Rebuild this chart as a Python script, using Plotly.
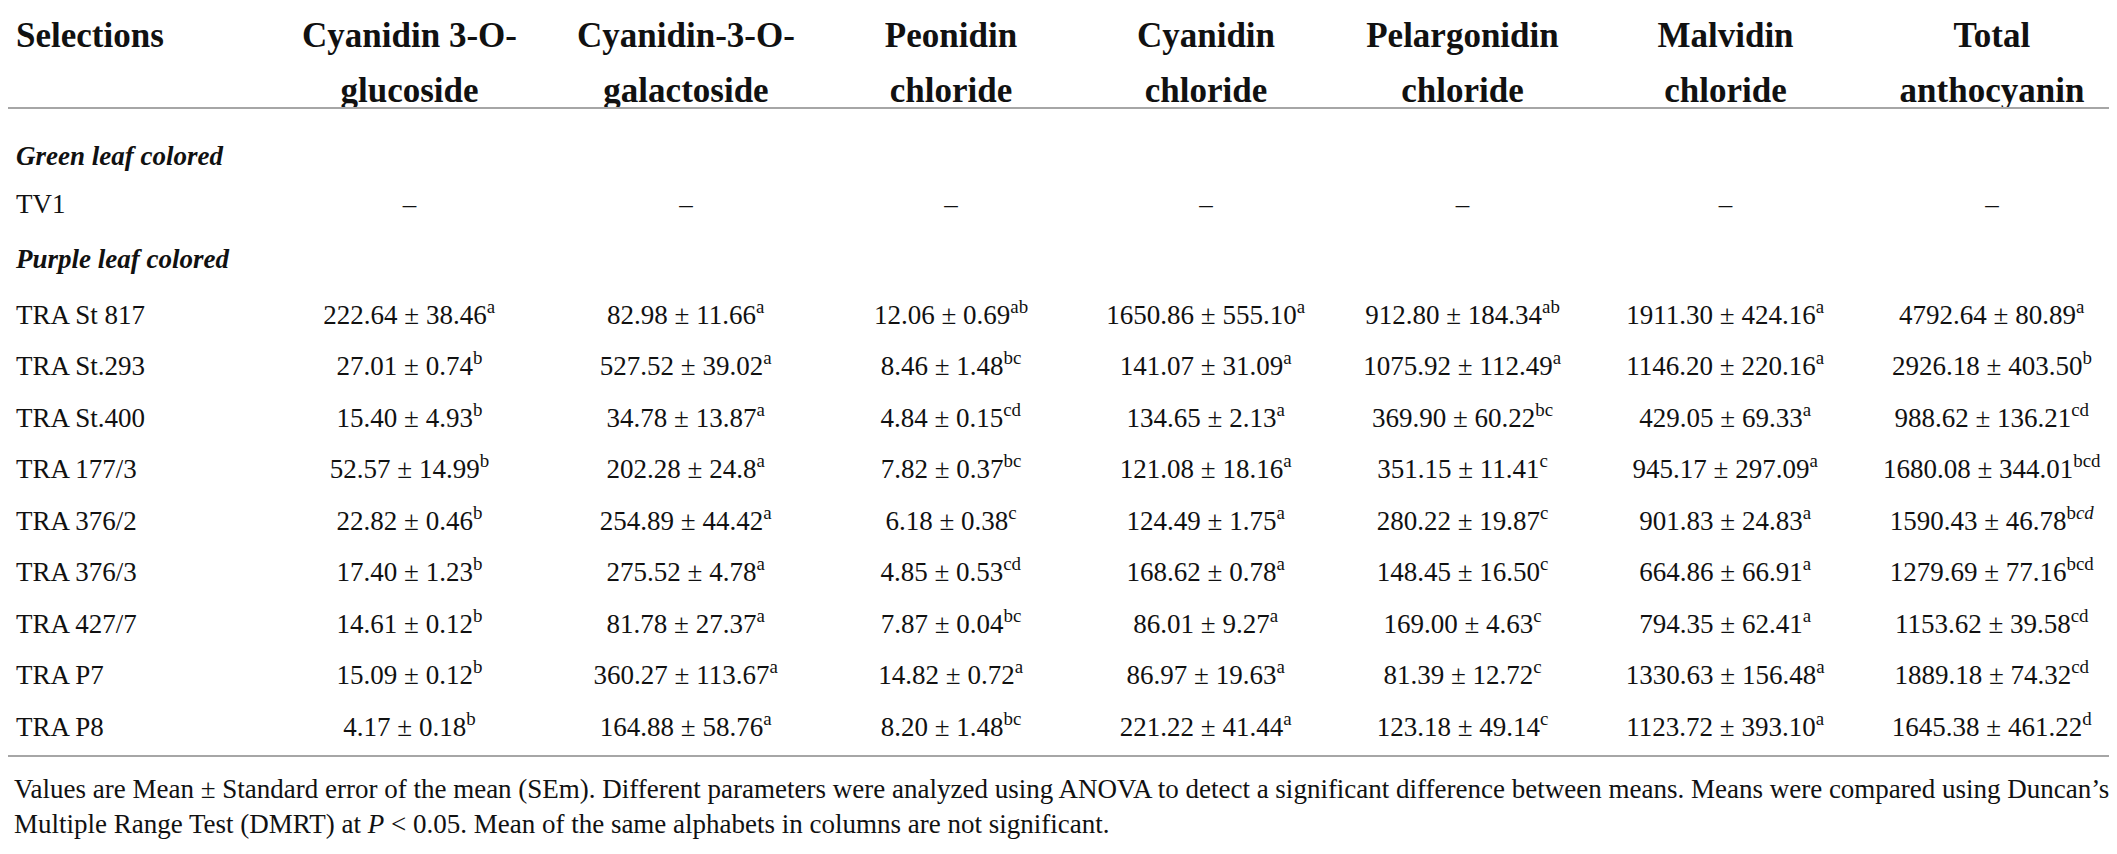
import plotly.graph_objects as go

# row labels
selections = ["<i><b>Green leaf colored</b></i>", "TV1", "<i><b>Purple leaf colored</b></i>",
              "TRA St 817", "TRA St.293", "TRA St.400", "TRA 177/3", "TRA 376/2",
              "TRA 376/3", "TRA 427/7", "TRA P7", "TRA P8"]

# column headings, first and second line
head_top = ["Selections", "Cyanidin 3-O-", "Cyanidin-3-O-", "Peonidin", "Cyanidin",
            "Pelargonidin", "Malvidin", "Total"]
head_bottom = ["", "glucoside", "galactoside", "chloride", "chloride", "chloride",
               "chloride", "anthocyanin"]

# mean, SEm and DMRT letters for the purple rows (TRA St 817 .. TRA P8)
c3glu_mean = ["222.64", "27.01", "15.40", "52.57", "22.82", "17.40", "14.61", "15.09", "4.17"]
c3glu_sem = ["38.46", "0.74", "4.93", "14.99", "0.46", "1.23", "0.12", "0.12", "0.18"]
c3glu_let = ["a", "b", "b", "b", "b", "b", "b", "b", "b"]

c3gal_mean = ["82.98", "527.52", "34.78", "202.28", "254.89", "275.52", "81.78", "360.27", "164.88"]
c3gal_sem = ["11.66", "39.02", "13.87", "24.8", "44.42", "4.78", "27.37", "113.67", "58.76"]
c3gal_let = ["a", "a", "a", "a", "a", "a", "a", "a", "a"]

peo_mean = ["12.06", "8.46", "4.84", "7.82", "6.18", "4.85", "7.87", "14.82", "8.20"]
peo_sem = ["0.69", "1.48", "0.15", "0.37", "0.38", "0.53", "0.04", "0.72", "1.48"]
peo_let = ["ab", "bc", "cd", "bc", "c", "cd", "bc", "a", "bc"]

cya_mean = ["1650.86", "141.07", "134.65", "121.08", "124.49", "168.62", "86.01", "86.97", "221.22"]
cya_sem = ["555.10", "31.09", "2.13", "18.16", "1.75", "0.78", "9.27", "19.63", "41.44"]
cya_let = ["a", "a", "a", "a", "a", "a", "a", "a", "a"]

pel_mean = ["912.80", "1075.92", "369.90", "351.15", "280.22", "148.45", "169.00", "81.39", "123.18"]
pel_sem = ["184.34", "112.49", "60.22", "11.41", "19.87", "16.50", "4.63", "12.72", "49.14"]
pel_let = ["ab", "a", "bc", "c", "c", "c", "c", "c", "c"]

mal_mean = ["1911.30", "1146.20", "429.05", "945.17", "901.83", "664.86", "794.35", "1330.63", "1123.72"]
mal_sem = ["424.16", "220.16", "69.33", "297.09", "24.83", "66.91", "62.41", "156.48", "393.10"]
mal_let = ["a", "a", "a", "a", "a", "a", "a", "a", "a"]

tot_mean = ["4792.64", "2926.18", "988.62", "1680.08", "1590.43", "1279.69", "1153.62", "1889.18", "1645.38"]
tot_sem = ["80.89", "403.50", "136.21", "344.01", "46.78", "77.16", "39.58", "74.32", "461.22"]
tot_let = ["a", "b", "cd", "bcd", "b<i>cd</i>", "bcd", "cd", "cd", "d"]

footnote = ("Values are Mean ± Standard error of the mean (SEm). Different parameters were analyzed using "
            "ANOVA to detect a significant difference between means. Means were compared using Duncan’s<br>"
            "Multiple Range Test (DMRT) at <i>P</i> &lt; 0.05. Mean of the same alphabets in columns are not significant.")


def column(means, sems, letters):
    vals = [f"{m} ± {s}<sup>{l}</sup>" for m, s, l in zip(means, sems, letters)]
    return ["", "–", ""] + vals


# an empty superscript on the sample names keeps them on the same baseline
# as the values, which all carry a superscript letter
labels = selections[:3] + [f"{s}<sup>&nbsp;</sup>" for s in selections[3:]]

cols = [labels,
        column(c3glu_mean, c3glu_sem, c3glu_let),
        column(c3gal_mean, c3gal_sem, c3gal_let),
        column(peo_mean, peo_sem, peo_let),
        column(cya_mean, cya_sem, cya_let),
        column(pel_mean, pel_sem, pel_let),
        column(mal_mean, mal_sem, mal_let),
        column(tot_mean, tot_sem, tot_let)]

W, H = 2117, 854
serif = "Liberation Serif"
ink = "#111"
clear = "rgba(0,0,0,0)"
noline = dict(color=clear, width=0)
widths = [262, 279, 274, 256, 254, 259, 267, 266]
aligns = ["left"] + ["center"] * 7

fig = go.Figure()

# heading block: first line in the header, second line as the only cell row,
# so that every line is centred on its own
head_font = dict(family=serif, size=35, color=ink)
fig.add_trace(go.Table(
    columnwidth=widths,
    domain=dict(x=[0, 1], y=[1 - 100 / H, 1]),
    header=dict(values=[f"<b>{t}</b>" for t in head_top], align=aligns, font=head_font,
                fill_color="white", line=noline, height=39),
    cells=dict(values=[[f"<b>{b}</b>"] for b in head_bottom], align=aligns, font=head_font,
               fill_color="white", line=noline, height=42),
))

# body: first row (Green leaf colored) goes in the header slot
body_font = dict(family=serif, size=27, color=ink)
fig.add_trace(go.Table(
    columnwidth=widths,
    domain=dict(x=[0, 1], y=[0, 1 - 125 / H]),
    header=dict(values=[c[0] for c in cols], align=aligns, font=body_font,
                fill_color="white", line=noline, height=51.5),
    cells=dict(values=[c[1:] for c in cols], align=aligns, font=body_font,
               fill_color="white", line=noline, height=51.5),
))

# horizontal rules
for yy in (100, 748):
    fig.add_shape(type="line", xref="paper", yref="paper", x0=0, x1=1,
                  y0=1 - yy / H, y1=1 - yy / H, line=dict(color="#a6a6a6", width=2))

fig.add_annotation(text=footnote, xref="paper", yref="paper", x=0.002, y=1 - 764 / H,
                   xanchor="left", yanchor="top", align="left", showarrow=False,
                   font=dict(family=serif, size=27, color=ink))

fig.update_layout(width=W, height=H, margin=dict(l=0, r=0, t=0, b=0),
                  paper_bgcolor="white", plot_bgcolor="white")

fig.write_html("out.html")
